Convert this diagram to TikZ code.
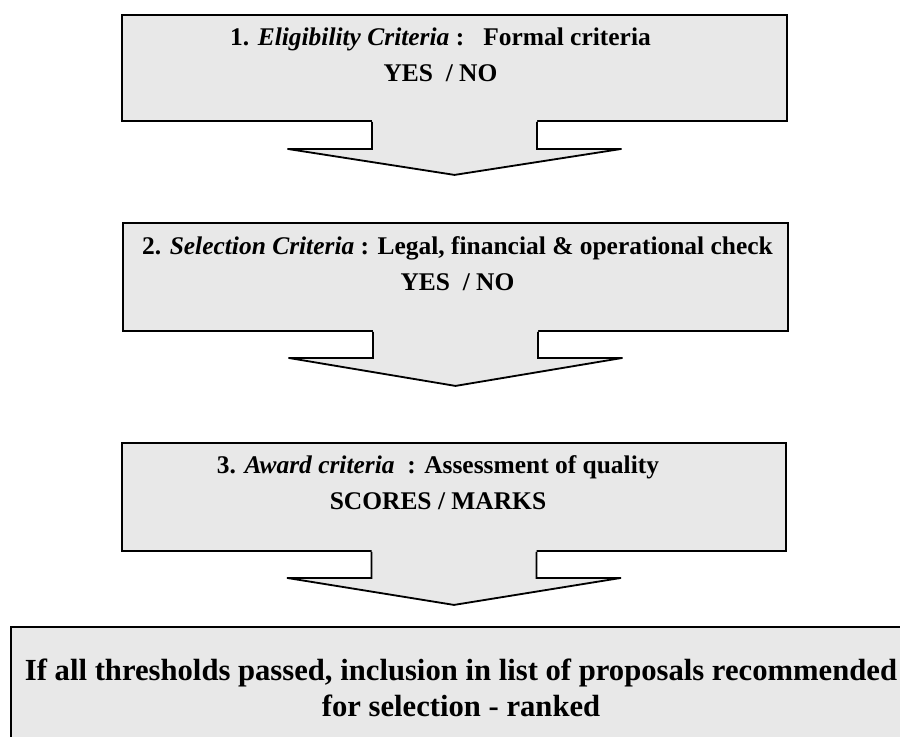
\documentclass[tikz,border=0pt]{standalone}
\usepackage{fontspec}
\setmainfont{Liberation Serif}
\usetikzlibrary{positioning,calc,fit}
\definecolor{boxgray}{HTML}{E8E8E8}
\begin{document}
\begin{tikzpicture}[x=0.025cm,y=-0.025cm,
        stage/.style={draw, line width=1.3pt, fill=boxgray, inner sep=0pt},
        stagetext/.style={font=\fontsize{18.1}{25.6}\selectfont\bfseries, align=center, inner sep=0pt},
        resulttext/.style={font=\fontsize{21.8}{25.6}\selectfont\bfseries, align=center, inner sep=0pt}]
                \useasboundingbox (0,0) rectangle (900,736);
                \clip (0,0) rectangle (900,736);

                \node[stage, fit={(122,15) (787,121)}] (b1) {};
                \node[stage, fit={(123,223) (788,331)}] (b2) {};
                \node[stage, fit={(122,443) (786,551)}] (b3) {};
                \node[stage, fit={(11,627) (915,760)}] (b4) {};

                \foreach \b/\h/\t in {b1/27/53, b2/26/54, b3/26/53} {
                    \fill[boxgray]
                        ($(\b.south)+(-82.5,-2)$) -- ($(\b.south)+(82.5,-2)$)
                        -- ($(\b.south)+(82.5,\h)$) -- ($(\b.south)+(167,\h)$)
                        -- ($(\b.south)+(0,\t)$) -- ($(\b.south)+(-167,\h)$)
                        -- ($(\b.south)+(-82.5,\h)$) -- cycle;
                    \draw[line width=1.3pt]
                        ($(\b.south)+(-82.5,0)$) -- ($(\b.south)+(-82.5,\h)$)
                        -- ($(\b.south)+(-167,\h)$) -- ($(\b.south)+(0,\t)$)
                        -- ($(\b.south)+(167,\h)$) -- ($(\b.south)+(82.5,\h)$)
                        -- ($(\b.south)+(82.5,0)$);
                }

                \node[stagetext] (t1) at ($(b1.north)+(-14,41)$)
                    {1. \textit{Eligibility Criteria} :\ \ \ Formal criteria\\ YES\ \ / NO};
                \node[stagetext] (t2) at ($(b2.north)+(2,42)$)
                    {2. \textit{Selection Criteria} : Legal, financial \& operational check\\ YES\ \ / NO};
                \node[stagetext] (t3) at ($(b3.north)+(-16,41)$)
                    {3. \textit{Award criteria}\ \ : Assessment of quality\\ SCORES / MARKS};
                \node[resulttext] (t4) at (461,688)
                    {If all thresholds passed, inclusion in list of proposals recommended\\ for selection - ranked};
            \end{tikzpicture}
\end{document}
